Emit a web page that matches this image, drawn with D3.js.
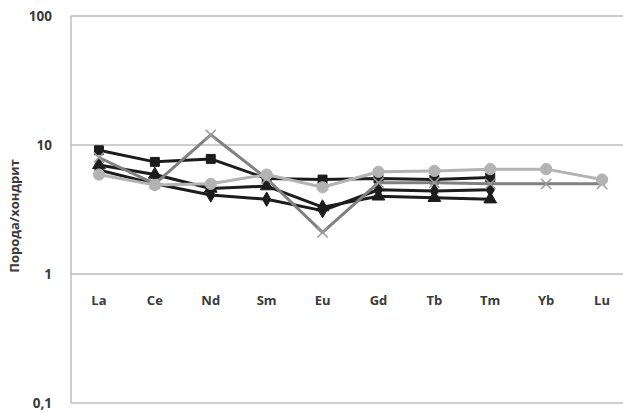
<!DOCTYPE html>
<html><head><meta charset="utf-8">
<script src="https://cdn.jsdelivr.net/npm/d3@7"></script>
<style>body{margin:0;background:#fff}svg{display:block}</style>
</head><body><svg id="c" width="623" height="413"></svg>
<script>
const categories = ["La","Ce","Nd","Sm","Eu","Gd","Tb","Tm","Yb","Lu"];
const yTicks = [0.1, 1, 10, 100];
const yTickLabels = ["0,1","1","10","100"];
const yTitle = "Порода/хондрит";
const squareSeries   = [9.1, 7.4, 7.8, 5.5, 5.4, 5.5, 5.4, 5.6];
const triangleSeries = [7.0, 5.9, 4.6, 4.8, 3.3, 4.0, 3.9, 3.8];
const diamondSeries  = [6.4, 5.0, 4.1, 3.8, 3.1, 4.5, 4.4, 4.5];
const crossSeries    = [8.0, 5.0, 12.0, 5.5, 2.1, 5.1, 5.1, 5.0, 5.0, 5.0];
const circleSeries   = [5.9, 4.9, 5.0, 5.9, 4.7, 6.2, 6.3, 6.5, 6.5, 5.4];

const svg = d3.select("#c");
const x = d3.scaleBand().domain(categories).range([71, 630]);
const y = d3.scaleLog().domain([0.1, 100]).range([403, 16]);
const cx = c => x(c) + x.bandwidth()/2;

svg.append("g").selectAll("line").data(yTicks).join("line")
  .attr("x1", 71).attr("x2", 623).attr("y1", d => y(d)).attr("y2", d => y(d))
  .attr("stroke", "#bdbdbd").attr("stroke-width", 1.5);
svg.append("line").attr("x1", 71).attr("x2", 71).attr("y1", y(100)).attr("y2", y(0.1))
  .attr("stroke", "#bdbdbd").attr("stroke-width", 1.5);

svg.append("g").selectAll("text").data(yTicks).join("text")
  .attr("x", 52).attr("y", d => y(d)).attr("dy", "0.35em").attr("text-anchor", "end")
  .attr("font-family", "Open Sans, sans-serif").attr("font-weight", "bold").attr("font-size", 13.5)
  .attr("fill", "#3a3a3a").text((d, i) => yTickLabels[i]);

svg.append("g").selectAll("text").data(categories).join("text")
  .attr("x", d => cx(d)).attr("y", y(1) + 26).attr("dy", "0.35em").attr("text-anchor", "middle")
  .attr("font-family", "Open Sans, sans-serif").attr("font-weight", "bold").attr("font-size", 13)
  .attr("fill", "#3a3a3a").text(d => d);

svg.append("text").attr("transform", `translate(19,${216}) rotate(-90)`)
  .attr("text-anchor", "middle").attr("font-family", "Open Sans, sans-serif")
  .attr("font-weight", "bold").attr("font-size", 13).attr("fill", "#3a3a3a").text(yTitle);

const line = d3.line().x((d, i) => cx(categories[i])).y(d => y(d));

function drawSeries(vals, color, width, symbol, size, mcolor) {
  const g = svg.append("g");
  g.append("path").attr("d", line(vals)).attr("fill", "none")
    .attr("stroke", color).attr("stroke-width", width).attr("stroke-linejoin", "round");
  g.selectAll("path.m").data(vals).join("path").attr("class", "m")
    .attr("transform", (d, i) => `translate(${cx(categories[i])},${y(d)})`)
    .attr("d", d3.symbol().type(symbol).size(size))
    .attr("fill", symbol === d3.symbolX ? "none" : mcolor)
    .attr("stroke", mcolor).attr("stroke-width", symbol === d3.symbolX ? 1.5 : 1);
}

drawSeries(diamondSeries, "#1c1c1c", 3, d3.symbolDiamond, 60, "#1c1c1c");
drawSeries(triangleSeries, "#1c1c1c", 3, d3.symbolTriangle, 70, "#1c1c1c");
drawSeries(squareSeries, "#1c1c1c", 3, d3.symbolSquare, 80, "#1c1c1c");
drawSeries(crossSeries, "#808080", 3, d3.symbolX, 70, "#9a9a9a");
drawSeries(circleSeries, "#b3b3b3", 3, d3.symbolCircle, 100, "#b3b3b3");
</script></body></html>
